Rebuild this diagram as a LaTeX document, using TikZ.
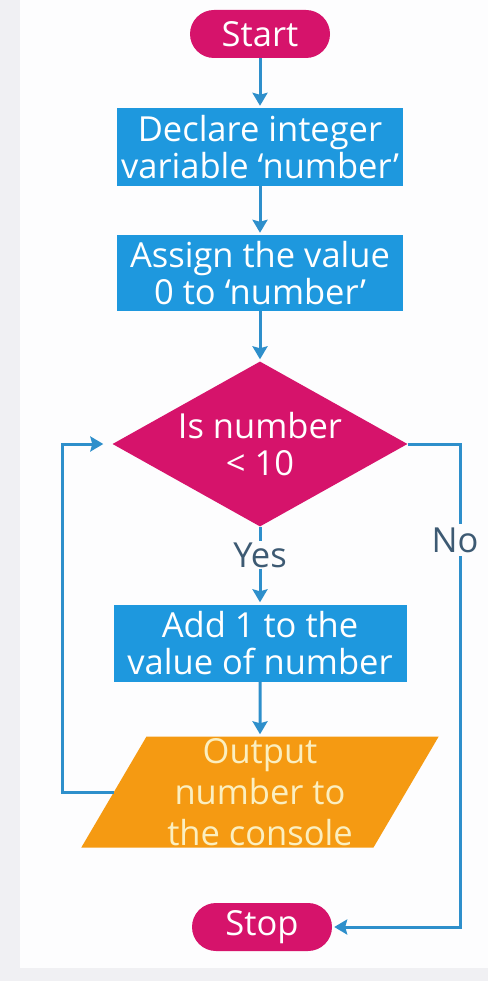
\documentclass[tikz,border=0pt]{standalone}
\usepackage{fontspec}
\setmainfont{Open Sans}
\usetikzlibrary{shapes.geometric,arrows.meta}
\definecolor{mag}{HTML}{D6136B}
\definecolor{boxblue}{HTML}{1E98DE}
\definecolor{orng}{HTML}{F59A12}
\definecolor{conncol}{HTML}{2E8FCB}
\definecolor{lblcol}{HTML}{3D5A73}
\definecolor{cream}{HTML}{FBEFC0}
\definecolor{mainbg}{HTML}{FDFDFE}
\definecolor{edgebg}{HTML}{F0F0F3}
\begin{document}
\begin{tikzpicture}[x=1pt,y=-1pt,
  txt/.style={align=center,font=\fontsize{34.5}{37}\selectfont},
  term/.style={txt,fill=mag,text=white,rounded corners=24pt,minimum width=140pt,minimum height=48pt,inner sep=0pt},
  proc/.style={txt,fill=boxblue,text=white,minimum width=286pt,minimum height=78pt,inner sep=0pt},
  dia/.style={txt,shape=diamond,fill=mag,text=white,aspect=1.8,inner sep=0pt,minimum width=295pt,minimum height=165pt},
  io/.style={txt,font=\fontsize{34.5}{41}\selectfont,trapezium,trapezium left angle=63.6,trapezium right angle=116.4,trapezium stretches=true,fill=orng,text=cream,minimum width=358pt,minimum height=111pt,inner sep=0pt},
  lbl/.style={txt,text=lblcol,inner sep=1pt},
  line/.style={draw=conncol,line width=3pt},
  conn/.style={line,-{Stealth[length=13pt,width=15pt,inset=2pt]},shorten >=2pt}]
\fill[edgebg] (0,0) rectangle (488,981);
\fill[mainbg] (20,0) rectangle (488,968);
\useasboundingbox (0,0) rectangle (488,981);

\node[term] (start) at (260,34) {Start};
\node[proc] (decl) at (260,147) {Declare integer\\variable `number'};
\node[proc,minimum height=76pt] (assign) at (260,273) {Assign the value\\0 to `number'};
\node[dia] (dec) at (260,444) {Is number\\< 10};
\node[lbl] (yes) at (260,555) {Yes};
\node[proc,minimum width=293pt,minimum height=77pt] (add) at (260,643) {Add 1 to the\\value of number};
\node[io] (out) at (260,792) {Output\\number to\\the console};
\node[term] (stop) at (262,927) {Stop};

\coordinate (lc) at (62,444);
\coordinate (rc) at (460,444);

\draw[conn] (start.south) -- (decl.north);
\draw[conn] (decl.south) -- (assign.north);
\draw[conn] (assign.south) -- (dec.north);
\draw[line] (dec.south) -- (yes.north);
\draw[conn] (yes.south) -- (add.north);
\draw[conn] (add.south) -- (out.north);
\draw[conn,shorten >=9pt] (out.west) -| (lc) -- (dec.west);
\draw[conn] (dec.east) -- (rc) |- (stop.east);
\node[lbl,fill=mainbg,inner sep=4pt] (no) at (455,540) {No};
\end{tikzpicture}
\end{document}
